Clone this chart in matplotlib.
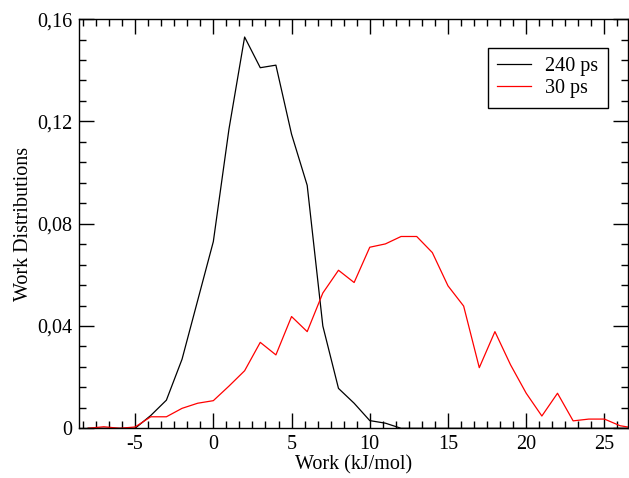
import matplotlib
matplotlib.use("Agg")
import matplotlib.pyplot as plt
from matplotlib.ticker import MultipleLocator, FixedLocator, FixedFormatter

# work values (kJ/mol), one bin per integer
work = list(range(-8, 28))

# 240 ps pulling
dist_240 = [0.0, 0.0, 0.0, 0.0, 0.005, 0.011, 0.027, 0.050, 0.073, 0.117,
            0.153, 0.141, 0.142, 0.115, 0.095, 0.040, 0.0156, 0.0098, 0.003, 0.002,
            0.0, 0.0, 0.0, 0.0, 0.0, 0.0, 0.0, 0.0, 0.0, 0.0,
            0.0, 0.0, 0.0, 0.0, 0.0, 0.0]

# 30 ps pulling
dist_30 = [0.0, 0.0006, 0.0, 0.0005, 0.0045, 0.0045, 0.0078, 0.0098, 0.0108, 0.0165,
           0.0225, 0.0336, 0.0287, 0.0437, 0.0378, 0.0529, 0.0618, 0.0570, 0.0708, 0.0721,
           0.0750, 0.0750, 0.0687, 0.0557, 0.0478, 0.0237, 0.0378, 0.0248, 0.0137, 0.0048,
           0.0137, 0.0029, 0.0036, 0.0036, 0.0010, 0.0]

yticks = [0.0, 0.04, 0.08, 0.12, 0.16]
ytick_labels = ["0", "0,04", "0,08", "0,12", "0,16"]

plt.rcParams["font.family"] = ["Liberation Serif", "DejaVu Serif"]
plt.rcParams["font.size"] = 14.5
plt.rcParams["axes.unicode_minus"] = False

fig = plt.figure(figsize=(6.29, 4.78), dpi=100)
ax = fig.add_axes([0.126, 0.104, 0.873, 0.856])

ax.plot(work, dist_240, color="black", lw=0.9, label="240 ps")
ax.plot(work, dist_30, color="red", lw=0.9, label="30 ps")

ax.set_xlim(-8.57, 26.53)
ax.set_ylim(0, 0.16)
ax.xaxis.set_major_locator(MultipleLocator(5))
ax.xaxis.set_minor_locator(MultipleLocator(5 / 6))
ax.yaxis.set_major_locator(FixedLocator(yticks))
ax.yaxis.set_major_formatter(FixedFormatter(ytick_labels))
ax.yaxis.set_minor_locator(MultipleLocator(0.008))

ax.tick_params(which="both", direction="in", top=True, right=True, width=1.0,
               labelsize=14.5)
ax.tick_params(which="major", length=11, pad=5)
ax.tick_params(which="minor", length=5)
for s in ax.spines.values():
    s.set_linewidth(1.0)

ax.set_xlabel("Work (kJ/mol)", fontsize=14.5, labelpad=1)
ax.set_ylabel("Work Distributions", fontsize=14.5, labelpad=3)

leg = ax.legend(loc="upper right", bbox_to_anchor=(0.962, 0.929), borderaxespad=0,
                fancybox=False, frameon=True, edgecolor="black", framealpha=1,
                handlelength=1.7, handletextpad=0.7, borderpad=0.45,
                labelspacing=0.15, fontsize=14.5)
leg.get_frame().set_linewidth(1.0)

fig.savefig("out.png", dpi=100)
